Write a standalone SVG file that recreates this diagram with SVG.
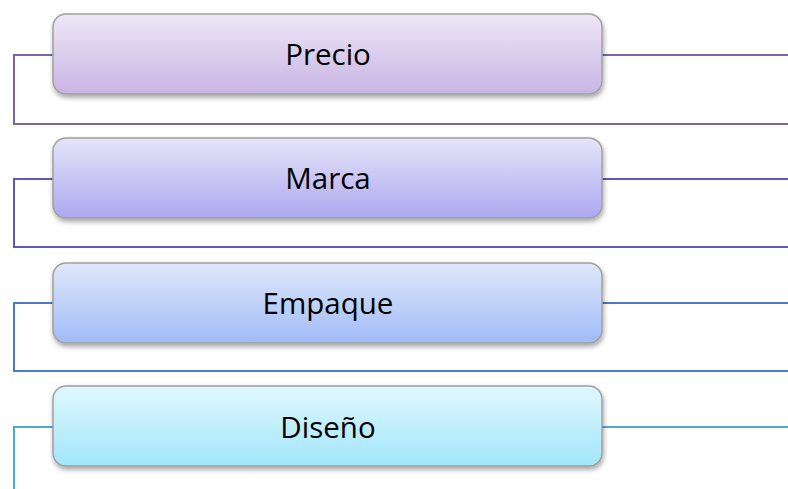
<svg xmlns="http://www.w3.org/2000/svg" width="788" height="489" viewBox="0 0 788 489">
<style>
.box{stroke:#a0a0a0;stroke-width:1.5;filter:url(#sh)}
.lbl{font-family:"Open Sans","Liberation Sans",sans-serif;font-size:29.5px;fill:#000;text-anchor:middle}
.c{fill:none;stroke-width:2}
</style>
<defs>
<filter id="sh" x="-5%" y="-20%" width="110%" height="150%">
<feDropShadow dx="1" dy="3" stdDeviation="2.5" flood-color="#000" flood-opacity="0.35"/>
</filter>
<linearGradient id="g1" x1="0" y1="0" x2="0" y2="1"><stop offset="0" stop-color="#eee8f7"/><stop offset="1" stop-color="#c8b4e4"/></linearGradient>
<linearGradient id="g2" x1="0" y1="0" x2="0" y2="1"><stop offset="0" stop-color="#e6e4f9"/><stop offset="1" stop-color="#ada8ef"/></linearGradient>
<linearGradient id="g3" x1="0" y1="0" x2="0" y2="1"><stop offset="0" stop-color="#e0e8fb"/><stop offset="1" stop-color="#a0bbf6"/></linearGradient>
<linearGradient id="g4" x1="0" y1="0" x2="0" y2="1"><stop offset="0" stop-color="#e0f8fe"/><stop offset="1" stop-color="#a2e6fb"/></linearGradient>
</defs>
<g id="connectors">
<path class="c" stroke="#8064a2" d="M53 55H14V124H788M602 55H788"/>
<path class="c" stroke="#6058b4" d="M53 179H14V247H788M602 179H788"/>
<path class="c" stroke="#4b78cc" d="M53 303H14V371H788M602 303H788"/>
<path class="c" stroke="#4bacc6" d="M53 427H14V489M602 427H788"/>
</g>
<g id="precio"><rect class="box" x="53" y="14" width="549" height="80" rx="13" fill="url(#g1)"/><text class="lbl" x="328" y="65">Precio</text></g>
<g id="marca"><rect class="box" x="53" y="138" width="549" height="80" rx="13" fill="url(#g2)"/><text class="lbl" x="328" y="189">Marca</text></g>
<g id="empaque"><rect class="box" x="53" y="263" width="549" height="80" rx="13" fill="url(#g3)"/><text class="lbl" x="328" y="314">Empaque</text></g>
<g id="diseno"><rect class="box" x="53" y="386" width="549" height="80" rx="13" fill="url(#g4)"/><text class="lbl" x="328" y="438">Diseño</text></g>
</svg>
